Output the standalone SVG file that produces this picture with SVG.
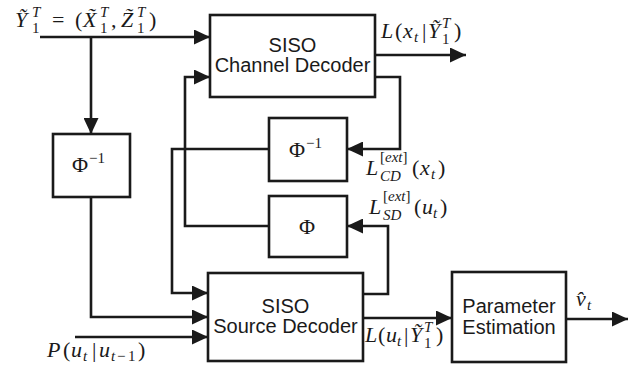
<svg xmlns="http://www.w3.org/2000/svg" width="632" height="365" viewBox="0 0 632 365">
  <defs>
    <marker id="arr" markerUnits="userSpaceOnUse" markerWidth="17" markerHeight="15" refX="16" refY="7.5" orient="auto">
      <path d="M0,0 L16,7.5 L0,15 z" fill="#1a1a1a"/>
    </marker>
    <style>
      .box { fill: #fff; stroke: #1a1a1a; stroke-width: 2.6; }
      .wire { fill: none; stroke: #1a1a1a; stroke-width: 2.6; marker-end: url(#arr); }
      .lbl { font-family: "Liberation Sans", Arial, sans-serif; font-size: 20px; fill: #1a1a1a; text-anchor: middle; }
      .mi { font-family: "Liberation Serif", "Times New Roman", serif; font-style: italic; font-size: 22px; fill: #1a1a1a; }
      .mr { font-family: "Liberation Serif", "Times New Roman", serif; font-style: normal; font-size: 22px; fill: #1a1a1a; }
      .si { font-family: "Liberation Serif", "Times New Roman", serif; font-style: italic; font-size: 15px; fill: #1a1a1a; }
      .sr { font-family: "Liberation Serif", "Times New Roman", serif; font-style: normal; font-size: 15px; fill: #1a1a1a; }
    </style>
  </defs>

  <g id="connectors">
    <path class="wire" d="M40,37 H210"/>
    <path class="wire" d="M91,37 V134"/>
    <path class="wire" d="M375,55 H466"/>
    <path class="wire" d="M375,77 H400 V149 H347"/>
    <path class="wire" d="M269,149 H172 V293 H208"/>
    <path class="wire" d="M269,226 H185 V77 H210"/>
    <path class="wire" d="M363,294 H388 V226 H347"/>
    <path class="wire" d="M91,197 V317 H208"/>
    <path class="wire" d="M75,337 H208"/>
    <path class="wire" d="M363,318 H452"/>
    <path class="wire" d="M566,319 H628"/>
  </g>

  <g id="channel-decoder">
    <rect class="box" x="210" y="15" width="165" height="82"/>
    <text class="lbl" x="292.5" y="52">SISO</text>
    <text class="lbl" x="292.5" y="72">Channel Decoder</text>
  </g>

  <g id="deinterleaver">
    <rect class="box" x="269" y="118" width="78" height="63"/>
    <text class="mr" x="289" y="157">Φ</text>
    <text class="sr" x="306" y="148">−1</text>
  </g>

  <g id="interleaver">
    <rect class="box" x="269" y="196" width="78" height="61"/>
    <text class="mr" x="299" y="234">Φ</text>
  </g>

  <g id="input-deinterleaver">
    <rect class="box" x="53" y="134" width="77" height="63"/>
    <text class="mr" x="72" y="172">Φ</text>
    <text class="sr" x="89" y="163">−1</text>
  </g>

  <g id="source-decoder">
    <rect class="box" x="208" y="273" width="155" height="88"/>
    <text class="lbl" x="285.5" y="313">SISO</text>
    <text class="lbl" x="285.5" y="333">Source Decoder</text>
  </g>

  <g id="parameter-estimation">
    <rect class="box" x="452" y="272" width="114" height="90"/>
    <text class="lbl" x="509" y="313">Parameter</text>
    <text class="lbl" x="509" y="334">Estimation</text>
  </g>

  <g id="labels">
    <!-- received sequence -->
    <text class="mi" x="15" y="27">Ỹ</text>
    <text class="si" x="32" y="17">T</text>
    <text class="sr" x="32" y="33">1</text>
    <text class="mr" x="52" y="27">=</text>
    <text class="mr" x="75" y="27">(</text>
    <text class="mi" x="83" y="27">X̃</text>
    <text class="si" x="100" y="17">T</text>
    <text class="sr" x="100" y="33">1</text>
    <text class="mr" x="111" y="27">,</text>
    <text class="mi" x="121" y="27">Z̃</text>
    <text class="si" x="137" y="17">T</text>
    <text class="sr" x="137" y="33">1</text>
    <text class="mr" x="149" y="27">)</text>

    <!-- channel decoder output -->
    <text class="mi" x="381" y="38">L</text>
    <text class="mr" x="395" y="38">(</text>
    <text class="mi" x="403" y="38">x</text>
    <text class="si" x="414" y="42">t</text>
    <text class="mr" x="422" y="38">|</text>
    <text class="mi" x="428" y="38">Ỹ</text>
    <text class="si" x="442" y="28">T</text>
    <text class="sr" x="442" y="44">1</text>
    <text class="mr" x="454" y="38">)</text>

    <!-- extrinsic, channel decoder -->
    <text class="mi" x="366" y="175">L</text>
    <text class="sr" x="380" y="162">[<tspan class="si">ext</tspan>]</text>
    <text class="si" x="380" y="181">CD</text>
    <text class="mr" x="412" y="175">(</text>
    <text class="mi" x="420" y="175">x</text>
    <text class="si" x="431" y="179">t</text>
    <text class="mr" x="438" y="175">)</text>

    <!-- extrinsic, source decoder -->
    <text class="mi" x="369" y="214">L</text>
    <text class="sr" x="383" y="201">[<tspan class="si">ext</tspan>]</text>
    <text class="si" x="383" y="220">SD</text>
    <text class="mr" x="414" y="214">(</text>
    <text class="mi" x="422" y="214">u</text>
    <text class="si" x="433" y="218">t</text>
    <text class="mr" x="440" y="214">)</text>

    <!-- source decoder output -->
    <text class="mi" x="365" y="342">L</text>
    <text class="mr" x="378" y="342">(</text>
    <text class="mi" x="386" y="342">u</text>
    <text class="si" x="397" y="346">t</text>
    <text class="mr" x="404" y="342">|</text>
    <text class="mi" x="410" y="342">Ỹ</text>
    <text class="si" x="424" y="332">T</text>
    <text class="sr" x="424" y="348">1</text>
    <text class="mr" x="436" y="342">)</text>

    <!-- source prior -->
    <text class="mi" x="47" y="357">P</text>
    <text class="mr" x="63" y="357">(</text>
    <text class="mi" x="71" y="357">u</text>
    <text class="si" x="83" y="361">t</text>
    <text class="mr" x="92" y="357">|</text>
    <text class="mi" x="99" y="357">u</text>
    <text class="si" x="111" y="361">t</text>
    <text class="sr" x="117" y="361">−</text>
    <text class="sr" x="128" y="361">1</text>
    <text class="mr" x="138" y="357">)</text>

    <!-- estimate -->
    <text class="mi" x="576" y="306">v̂</text>
    <text class="si" x="587" y="310">t</text>
  </g>
</svg>
